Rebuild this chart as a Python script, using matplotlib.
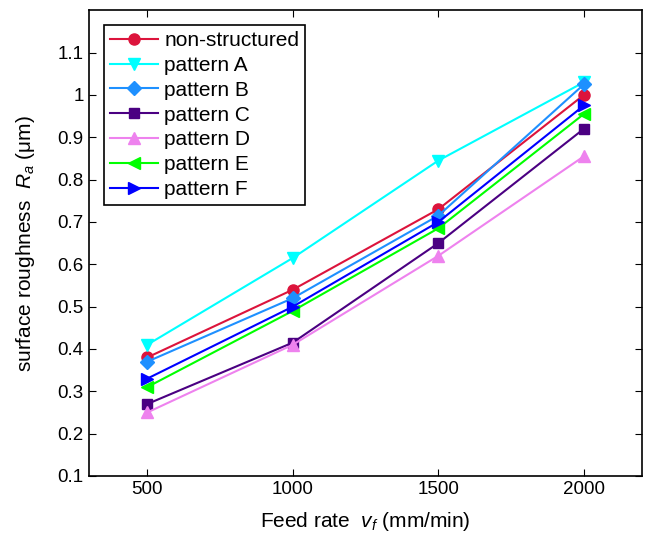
import matplotlib.pyplot as plt

plt.rcParams['font.family'] = ['Liberation Sans', 'DejaVu Sans']
plt.rcParams['mathtext.fontset'] = 'custom'
plt.rcParams['mathtext.it'] = 'Liberation Sans:italic'
plt.rcParams['mathtext.rm'] = 'Liberation Sans'

feed = [500, 1000, 1500, 2000]
labels = ['non-structured', 'pattern A', 'pattern B', 'pattern C',
          'pattern D', 'pattern E', 'pattern F']
ra = [
    [0.38, 0.54, 0.73, 1.00],
    [0.41, 0.615, 0.845, 1.03],
    [0.37, 0.52, 0.715, 1.025],
    [0.27, 0.415, 0.65, 0.92],
    [0.25, 0.41, 0.62, 0.855],
    [0.31, 0.49, 0.685, 0.955],
    [0.33, 0.50, 0.70, 0.975],
]
colors = ['#DC143C', '#00FFFF', '#1E90FF', '#4B0082', '#EE82EE', '#00FF00', '#0000FF']
markers = ['o', 'v', 'D', 's', '^', '<', '>']
sizes = [8, 9, 7, 7, 9, 9, 9]

fig = plt.figure(figsize=(6.46, 5.39), dpi=100)
ax = fig.add_axes([0.138, 0.117, 0.856, 0.864])

for y, lab, c, m, s in zip(ra, labels, colors, markers, sizes):
    ax.plot(feed, y, color=c, marker=m, markersize=s, linewidth=1.5, label=lab)

ax.set_xlim(300, 2200)
ax.set_ylim(0.1, 1.2)
ax.set_xticks([500, 1000, 1500, 2000])
ax.set_yticks([0.1, 0.2, 0.3, 0.4, 0.5, 0.6, 0.7, 0.8, 0.9, 1.0, 1.1])
ax.set_yticklabels(['0.1', '0.2', '0.3', '0.4', '0.5', '0.6', '0.7', '0.8', '0.9', '1', '1.1'])
ax.tick_params(direction='in', labelsize=13.5, top=True, right=True, length=5, pad=4)
for sp in ax.spines.values():
    sp.set_linewidth(1.2)

ax.set_xlabel('Feed rate  $v_f$ (mm/min)', fontsize=15, labelpad=8)
ax.set_ylabel('surface roughness  $R_a$ (μm)', fontsize=15, labelpad=15)

leg = ax.legend(loc='upper left', fontsize=15, fancybox=False, edgecolor='black',
                framealpha=1, borderaxespad=0.7, handlelength=2.3, labelspacing=0.28,
                handletextpad=0.3, borderpad=0.3)
leg.get_frame().set_linewidth(1.2)

fig.savefig('out.png', dpi=100)
